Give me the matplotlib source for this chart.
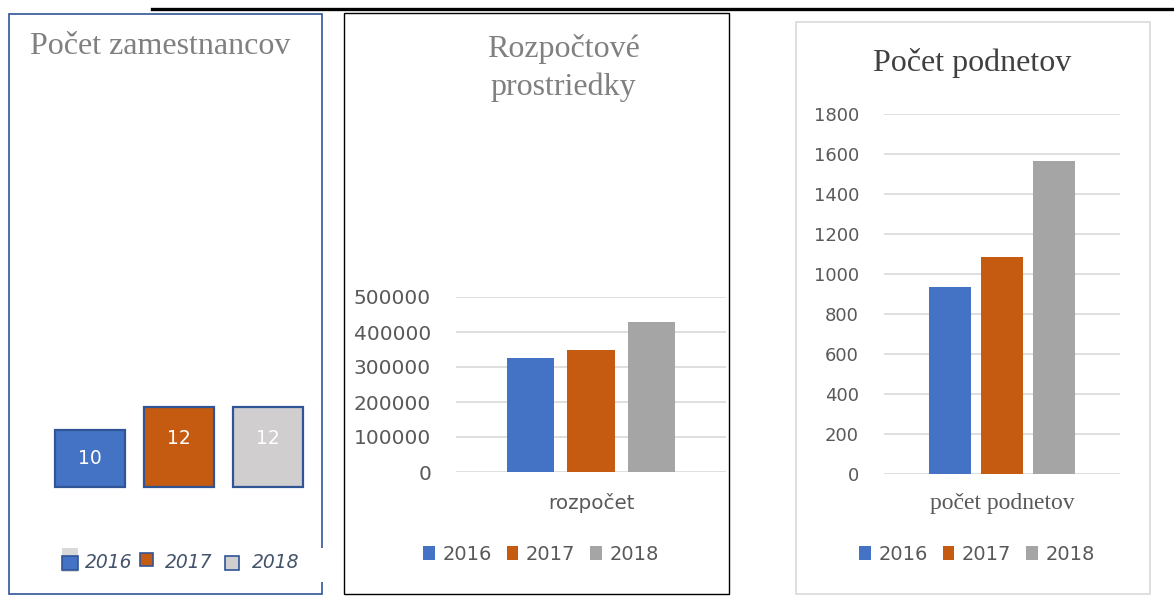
import matplotlib.pyplot as plt
from matplotlib.patches import Rectangle
from matplotlib.lines import Line2D

# data
years = ['2016', '2017', '2018']
employees = [10, 12, 12]
budget = [325000, 350000, 430000]
complaints = [935, 1085, 1565]
budget_ticks = [0, 100000, 200000, 300000, 400000, 500000]
complaint_ticks = [0, 200, 400, 600, 800, 1000, 1200, 1400, 1600, 1800]

colors = ['#4472C4', '#C55A11', '#A5A5A5']
box_colors = ['#4472C4', '#C55A11', '#D0CECE']
W, H = 1174, 596
serif = 'Liberation Serif'
sans = 'DejaVu Sans'

fig = plt.figure(figsize=(W / 100, H / 100), dpi=100)


def box(x0, y0, x1, y1):
    # pixel box (top-left origin) -> figure rect
    return [x0 / W, 1 - y1 / H, (x1 - x0) / W, (y1 - y0) / H]


def frame(x0, y0, x1, y1, color, lw):
    r = Rectangle((x0 / W, 1 - y1 / H), (x1 - x0) / W, (y1 - y0) / H,
                  transform=fig.transFigure, fill=False, edgecolor=color, linewidth=lw)
    fig.add_artist(r)


# top rule
fig.add_artist(Line2D([152 / W, 1], [1 - 9 / H, 1 - 9 / H], color='black', linewidth=2.4,
                      transform=fig.transFigure))

# panel frames
frame(9, 14, 322, 594, '#2F5597', 1.2)
frame(344, 13, 729, 594, '#000000', 1.0)
frame(796, 22, 1150, 594, '#D9D9D9', 1.2)
# white strip of legend overlapping the first frame
fig.add_artist(Rectangle((60 / W, 1 - 582 / H), 266 / W, 34 / H, transform=fig.transFigure,
                         facecolor='white', edgecolor='none'))

# ---- panel 1: Počet zamestnancov (axis starts at 5, like the source chart)
base = 5
fig.text(30 / W, 1 - 47 / H, 'Počet zamestnancov', family=serif, fontsize=23,
         color='#808080', va='center', ha='left')
ax1 = fig.add_axes(box(36.6, 85, 321.4, 487))
bars = ax1.bar(range(3), [v - base for v in employees], width=0.78, bottom=base,
               color=box_colors, edgecolor='#2F5597', linewidth=1.6, clip_on=False)
ax1.set_xlim(-0.6, 2.6)
ax1.set_ylim(base, 40)
ax1.axis('off')
for i, v in enumerate(employees):
    y = (v + base) / 2 + (0.7 if v == 12 else 0)
    ax1.text(i, y, str(v), ha='center', va='center', color='white', fontsize=13.5, family=sans)

# panel 1 legend
leg_y = 1 - 563 / H
fig.add_artist(Rectangle((62 / W, 1 - 572 / H), 16 / W, 24 / H, transform=fig.transFigure,
                         facecolor='#D9D9D9', edgecolor='none'))
fig.add_artist(Rectangle((62 / W, 1 - 570 / H), 16 / W, 14 / H, transform=fig.transFigure,
                         facecolor='#4472C4', edgecolor='#2F5597', linewidth=1.2))
fig.add_artist(Rectangle((140 / W, 1 - 566 / H), 13 / W, 13 / H, transform=fig.transFigure,
                         facecolor='#C55A11', edgecolor='#2F5597', linewidth=1.2))
fig.add_artist(Rectangle((225 / W, 1 - 570 / H), 14 / W, 14 / H, transform=fig.transFigure,
                         facecolor='#D0CECE', edgecolor='#2F5597', linewidth=1.2))
for x, lab in zip([85, 165, 252], years):
    fig.text(x / W, leg_y, lab, family=sans, style='italic', fontsize=13.5,
             color='#44546A', va='center', ha='left')

# ---- panel 2: Rozpočtové prostriedky
fig.text(563 / W, 1 - 68 / H, 'Rozpočtové\nprostriedky', family=serif, fontsize=23,
         color='#808080', va='center', ha='center', linespacing=1.4)
ax2 = fig.add_axes(box(456, 297, 726, 472))
ax2.bar([-1, 0, 1], budget, width=0.79, color=colors, label=years, zorder=3)
ax2.set_xlim(-2.23, 2.23)
ax2.set_ylim(0, 500000)
ax2.set_yticks(budget_ticks)
ax2.set_yticklabels([str(t) for t in budget_ticks])
ax2.set_xticks([0])
ax2.set_xticklabels(['rozpočet'])
ax2.grid(axis='y', color='#D9D9D9', linewidth=1.2, zorder=0)
for s in ax2.spines.values():
    s.set_visible(False)
ax2.tick_params(axis='y', length=0, pad=18, labelsize=14.5, labelcolor='#595959')
ax2.tick_params(axis='x', length=0, pad=15, labelsize=14.3, labelcolor='#595959')
ax2.legend(loc='center', bbox_to_anchor=(541 / W, 1 - 554 / H), bbox_transform=fig.transFigure,
           ncol=3, frameon=False, handlelength=0.6, handleheight=0.7, handletextpad=0.4,
           columnspacing=0.75, prop={'family': sans, 'size': 14}, labelcolor='#595959')

# ---- panel 3: Počet podnetov
fig.text(972 / W, 1 - 63 / H, 'Počet podnetov', family=serif, fontsize=23,
         color='#404040', va='center', ha='center')
ax3 = fig.add_axes(box(884, 114, 1120, 474))
ax3.bar([-1, 0, 1], complaints, width=0.8, color=colors, label=years, zorder=3)
ax3.set_xlim(-2.25, 2.25)
ax3.set_ylim(0, 1800)
ax3.set_yticks(complaint_ticks)
ax3.set_yticklabels([str(t) for t in complaint_ticks])
ax3.set_xticks([0])
ax3.set_xticklabels(['počet podnetov'], family=serif)
ax3.grid(axis='y', color='#D9D9D9', linewidth=1.2, zorder=0)
for s in ax3.spines.values():
    s.set_visible(False)
ax3.tick_params(axis='y', length=0, pad=18, labelsize=13, labelcolor='#595959')
ax3.tick_params(axis='x', length=0, pad=14, labelsize=17, labelcolor='#595959')
ax3.legend(loc='center', bbox_to_anchor=(977 / W, 1 - 554 / H), bbox_transform=fig.transFigure,
           ncol=3, frameon=False, handlelength=0.6, handleheight=0.7, handletextpad=0.4,
           columnspacing=0.75, prop={'family': sans, 'size': 14}, labelcolor='#595959')

fig.savefig('out.png', dpi=100, facecolor='white')
